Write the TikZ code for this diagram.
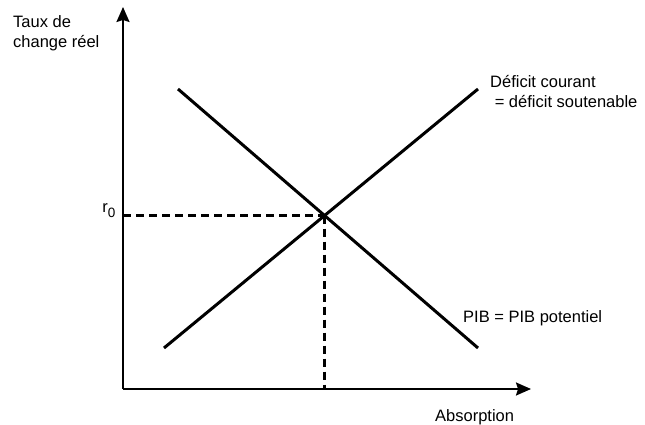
\documentclass[tikz,border=0pt]{standalone}
\usepackage{fontspec}
\setmainfont{Liberation Sans}
\usetikzlibrary{arrows.meta, positioning}

\begin{document}
\begin{tikzpicture}[
    x=1pt, y=-1pt,
    every node/.style={font=\fontsize{16.5}{20}\selectfont, inner sep=0pt},
    axis/.style={-{Stealth[length=15pt, width=13pt, inset=2pt]}, line width=2pt},
    curve/.style={line width=3pt},
    guide/.style={line width=2.5pt, dash pattern=on 8pt off 5pt}
  ]
  \useasboundingbox (0,0) rectangle (645,425);

  % axes
  \coordinate (O) at (123,389);
  \coordinate (ytip) at (123,7);
  \coordinate (xtip) at (531,389);
  \draw[axis] (O) -- (ytip);
  \draw[axis] (O) -- (xtip);

  % the two schedules
  \coordinate (pib1) at (178,89);
  \coordinate (pib2) at (478,348);
  \coordinate (dc1) at (164,348);
  \coordinate (dc2) at (478,89);
  \draw[curve] (pib1) -- (pib2);
  \draw[curve] (dc1) -- (dc2);

  % equilibrium
  \coordinate (eq) at (intersection of pib1--pib2 and dc1--dc2);
  \draw[guide] (O |- eq) -- (eq);
  \draw[guide] (eq) -- (eq |- O);

  % labels
  \node[anchor=north west, align=left] (ylab) at (13,15) {Taux de\\change réel};
  \node[anchor=base west] (xlab) at (435,421) {Absorption};
  \node[anchor=base east] (rlab) at (115.5,212)
    {r\raisebox{-5pt}{\fontsize{13.5}{16}\selectfont 0}};
  \node[anchor=north west, align=left] (dclab) at (490,75)
    {Déficit courant\\\ = déficit soutenable};
  \node[anchor=base west] (piblab) at (463,322) {PIB = PIB potentiel};
\end{tikzpicture}
\end{document}
